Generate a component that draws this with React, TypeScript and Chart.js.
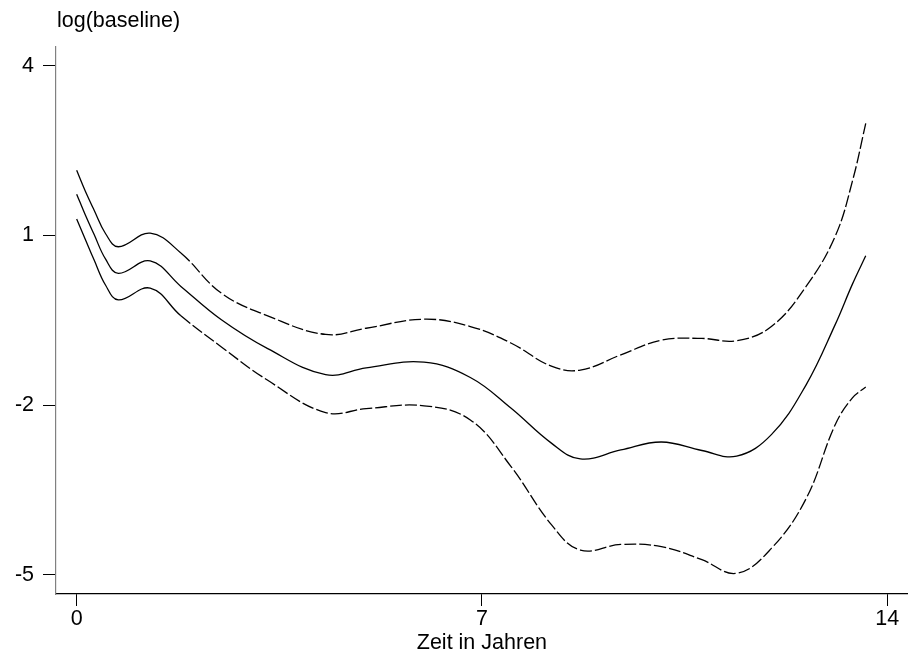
import React, { useEffect, useRef } from "react";
import { Chart, registerables } from "chart.js";

Chart.register(...registerables);

const yearValues = [0, 0.15, 0.3, 0.5, 0.72, 1.27, 1.8, 2.5, 3.3, 4.3, 5.0, 6.0, 6.8, 7.5, 8.2, 8.7, 9.4, 10.1, 10.8, 11.4, 12.0, 12.6, 13.1, 13.4, 13.63];
const estimateValues = [1.73, 1.36, 1.02, 0.58, 0.33, 0.55, 0.1, -0.49, -1.0, -1.46, -1.34, -1.24, -1.51, -2.05, -2.67, -2.95, -2.79, -2.65, -2.8, -2.9, -2.52, -1.64, -0.58, 0.14, 0.64];
const upperValues = [2.15, 1.78, 1.45, 1.03, 0.8, 1.04, 0.69, -0.02, -0.42, -0.75, -0.64, -0.48, -0.61, -0.9, -1.31, -1.38, -1.11, -0.85, -0.82, -0.86, -0.61, 0.1, 0.98, 1.96, 2.98];
const lowerValues = [1.29, 0.93, 0.57, 0.12, -0.14, 0.07, -0.42, -0.97, -1.56, -2.13, -2.06, -2.01, -2.26, -3.08, -4.11, -4.56, -4.46, -4.5, -4.73, -4.97, -4.53, -3.65, -2.35, -1.87, -1.68];

const xTicks = [0, 7, 14];
const yTicks = [-5, -2, 1, 4];
const yTitle = "log(baseline)";
const xTitle = "Zeit in Jahren";

const FONT = "'Liberation Sans', Arial, Helvetica, sans-serif";
const FS = 21.5;

const toPoints = (ys: number[]) => yearValues.map((x, i) => ({ x, y: ys[i] }));

export default function App() {
  const ref = useRef<HTMLCanvasElement | null>(null);
  useEffect(() => {
    if (!ref.current) return;
    const dashSeg = {
      borderDash: (ctx: any) => (ctx.p0.parsed.x < 1.6 ? [] : [12, 3]),
    };
    const titles = {
      id: "titles",
      afterDraw(chart: any) {
        const c = chart.ctx;
        c.save();
        c.fillStyle = "#000";
        c.font = `${FS}px ${FONT}`;
        c.textBaseline = "alphabetic";
        c.textAlign = "left";
        c.fillText(yTitle, 57, 27);
        c.textAlign = "center";
        const xs = chart.scales.x;
        c.fillText(xTitle, xs.getPixelForValue(7), 649);
        c.restore();
      },
    };
    const common = {
      borderColor: "#000",
      borderWidth: 1.3,
      pointRadius: 0,
      tension: 0.4,
      fill: false,
    };
    const chart = new Chart(ref.current, {
      type: "line",
      data: {
        datasets: [
          { ...common, data: toPoints(upperValues), segment: dashSeg } as any,
          { ...common, data: toPoints(estimateValues) } as any,
          { ...common, data: toPoints(lowerValues), segment: dashSeg } as any,
        ],
      },
      options: {
        responsive: false,
        animation: false,
        layout: { padding: { top: 47, right: 0, left: 0, bottom: 0 } },
        plugins: { legend: { display: false }, tooltip: { enabled: false }, title: { display: false } },
        scales: {
          x: {
            type: "linear",
            min: -0.357,
            max: 14.36,
            afterBuildTicks: (s: any) => {
              s.ticks = xTicks.map((v) => ({ value: v }));
            },
            afterFit: (s: any) => {
              s.height = 64;
            },
            grid: { display: true, drawOnChartArea: false, drawTicks: true, tickLength: 12, tickColor: "#000", tickWidth: 1 },
            border: { display: true, color: "#000", width: 1.2 },
            ticks: { color: "#000", font: { family: FONT, size: FS }, padding: 0, maxRotation: 0, autoSkip: false },
          },
          y: {
            type: "linear",
            min: -5.336,
            max: 4.33,
            afterBuildTicks: (s: any) => {
              s.ticks = yTicks.map((v) => ({ value: v }));
            },
            afterFit: (s: any) => {
              s.width = 56;
            },
            grid: { display: true, drawOnChartArea: false, drawTicks: true, tickLength: 13, tickColor: "#000", tickWidth: 1 },
            border: { display: true, color: "#808080", width: 1.2 },
            ticks: { color: "#000", font: { family: FONT, size: FS }, padding: 9, autoSkip: false },
          },
        },
      },
      plugins: [titles],
    });
    return () => chart.destroy();
  }, []);
  return (
    <div style={{ position: "fixed", left: 0, top: 0, width: 908, height: 658, background: "#fff" }}>
      <canvas ref={ref} width={908} height={658} style={{ width: 908, height: 658 }} />
    </div>
  );
}
